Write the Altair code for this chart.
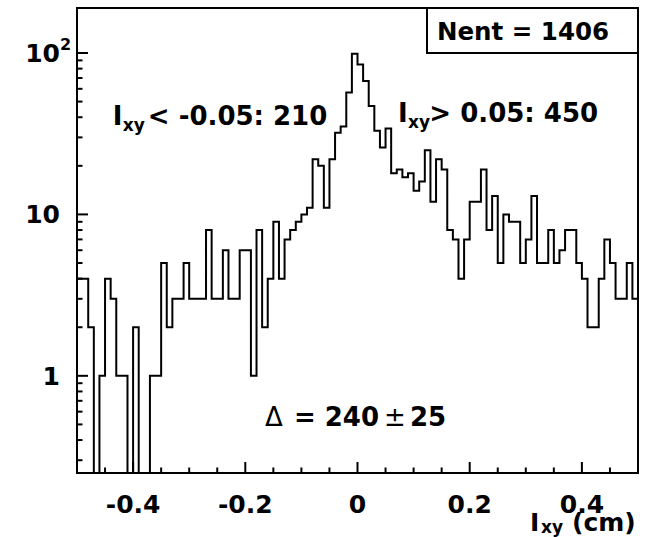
import altair as alt
import pandas as pd

# ---- data ----
x_min, x_max, n_bins = -0.5, 0.5, 100
counts = [4, 4, 2, 0, 1, 4, 3, 1, 1, 0,
          2, 0, 0, 1, 1, 5, 2, 3, 3, 5,
          3, 3, 3, 8, 3, 3, 6, 3, 3, 6,
          6, 1, 8, 2, 4, 9, 4, 7, 8, 9,
          10, 11, 22, 20, 11, 22, 32, 35, 57, 99,
          85, 67, 47, 33, 26, 34, 18, 19, 17, 18,
          14, 16, 25, 12, 22, 19, 8, 7, 4, 7,
          12, 12, 19, 8, 13, 5, 10, 9, 9, 5,
          7, 13, 5, 5, 8, 5, 6, 8, 8, 5,
          4, 2, 2, 4, 7, 5, 3, 3, 5, 3]
y_domain = [0.25, 190]
x_major = [-0.4, -0.2, 0.0, 0.2, 0.4]
x_labels = ["-0.4", "-0.2", "0", "0.2", "0.4"]
x_minor = [-0.45, -0.35, -0.3, -0.25, -0.15, -0.1, -0.05,
           0.05, 0.1, 0.15, 0.25, 0.3, 0.35, 0.45]
y_major = [1, 10, 100]
y_labels = ["1", "10", "10"]
y_sup_vals = [100]
y_sup_text = ["2"]
y_minor = [0.3, 0.4, 0.5, 0.6, 0.7, 0.8, 0.9,
           2, 3, 4, 5, 6, 7, 8, 9,
           20, 30, 40, 50, 60, 70, 80, 90]
stats_text = "Nent = 1406"

# annotation texts (data coordinates)
bold_big = pd.DataFrame({
    "x": [-0.4363, -0.3738, 0.0721, 0.1281, -0.1133, 0.0936],
    "y": [35.8, 35.8, 37.4, 37.4, 0.49, 0.49],
    "t": ["I", "< -0.05: 210", "I", "> 0.05: 450", "= 240", "25"],
})
bold_sub = pd.DataFrame({
    "x": [-0.4185, 0.0900],
    "y": [32.9, 34.3],
    "t": ["xy", "xy"],
})
normal_big = pd.DataFrame({
    "x": [-0.1651, 0.0472],
    "y": [0.49, 0.49],
    "t": ["\u0394", "\u00b1"],
})

W, H = 561, 465
FONT = "DejaVu Sans"

width_bin = (x_max - x_min) / n_bins
edges = [x_min + width_bin * i for i in range(n_bins)] + [x_max]
vals = counts + [counts[-1]]
hist = pd.DataFrame({"x": edges, "n": vals})
hist["y"] = hist["n"].clip(lower=0.05)

xs = alt.Scale(domain=[x_min, x_max], zero=False, nice=False)
ys = alt.Scale(type="log", domain=y_domain, nice=False)

line = alt.Chart(hist).mark_line(interpolate="step-after", color="black",
                                 strokeWidth=2, clip=True).encode(
    x=alt.X("x:Q", scale=xs, axis=None),
    y=alt.Y("y:Q", scale=ys, axis=None),
)

xmaj = alt.Chart(pd.DataFrame({"v": x_major})).mark_rule(color="black", strokeWidth=2).encode(
    x=alt.X("v:Q", scale=xs, axis=None), y=alt.value(H), y2=alt.value(H - 11))
xmin_ = alt.Chart(pd.DataFrame({"v": x_minor})).mark_rule(color="black", strokeWidth=2).encode(
    x=alt.X("v:Q", scale=xs, axis=None), y=alt.value(H), y2=alt.value(H - 5.5))
ymaj = alt.Chart(pd.DataFrame({"v": y_major})).mark_rule(color="black", strokeWidth=2).encode(
    y=alt.Y("v:Q", scale=ys, axis=None), x=alt.value(0), x2=alt.value(11))
ymin_ = alt.Chart(pd.DataFrame({"v": y_minor})).mark_rule(color="black", strokeWidth=2).encode(
    y=alt.Y("v:Q", scale=ys, axis=None), x=alt.value(0), x2=alt.value(5.5))

# tick labels
xlab = alt.Chart(pd.DataFrame({"v": x_major, "t": x_labels})).mark_text(
    font=FONT, fontWeight="bold", fontSize=25, align="center", baseline="alphabetic",
    color="black").encode(
    x=alt.X("v:Q", scale=xs, axis=None), y=alt.value(H + 40), text="t:N")
ylab = alt.Chart(pd.DataFrame({"v": y_major, "t": y_labels})).mark_text(
    font=FONT, fontWeight="bold", fontSize=25, align="right", baseline="alphabetic",
    color="black", dy=9).encode(
    y=alt.Y("v:Q", scale=ys, axis=None), x=alt.value(-17), text="t:N")
ysup = alt.Chart(pd.DataFrame({"v": y_sup_vals, "t": y_sup_text})).mark_text(
    font=FONT, fontWeight="bold", fontSize=16, align="left", baseline="alphabetic",
    color="black", dy=-3).encode(
    y=alt.Y("v:Q", scale=ys, axis=None), x=alt.value(-17), text="t:N")

t_big = alt.Chart(bold_big).mark_text(font=FONT, fontWeight="bold", fontSize=26,
                                      align="left", baseline="alphabetic", color="black").encode(
    x=alt.X("x:Q", scale=xs, axis=None), y=alt.Y("y:Q", scale=ys, axis=None), text="t:N")
t_sub = alt.Chart(bold_sub).mark_text(font=FONT, fontWeight="bold", fontSize=17,
                                      align="left", baseline="alphabetic", color="black").encode(
    x=alt.X("x:Q", scale=xs, axis=None), y=alt.Y("y:Q", scale=ys, axis=None), text="t:N")
t_norm = alt.Chart(normal_big).mark_text(font=FONT, fontWeight="normal", fontSize=26,
                                         align="left", baseline="alphabetic", color="black").encode(
    x=alt.X("x:Q", scale=xs, axis=None), y=alt.Y("y:Q", scale=ys, axis=None), text="t:N")

# stats box
box = alt.Chart(pd.DataFrame({"a": [0]})).mark_rect(fill="white", stroke="black", strokeWidth=2).encode(
    x=alt.value(350), x2=alt.value(W), y=alt.value(0), y2=alt.value(45))
box_txt = alt.Chart(pd.DataFrame({"t": [stats_text]})).mark_text(
    font=FONT, fontWeight="bold", fontSize=24.5, align="left", baseline="alphabetic", color="black").encode(
    x=alt.value(360), y=alt.value(32), text="t:N")

# x-axis title  I_xy (cm)
xt1 = alt.Chart(pd.DataFrame({"t": ["I"]})).mark_text(
    font=FONT, fontWeight="bold", fontSize=25, align="left", baseline="alphabetic", color="black").encode(
    x=alt.value(453), y=alt.value(523), text="t:N")
xt2 = alt.Chart(pd.DataFrame({"t": ["xy"]})).mark_text(
    font=FONT, fontWeight="bold", fontSize=17, align="left", baseline="alphabetic", color="black").encode(
    x=alt.value(464), y=alt.value(524.5), text="t:N")
xt3 = alt.Chart(pd.DataFrame({"t": ["(cm)"]})).mark_text(
    font=FONT, fontWeight="bold", fontSize=25, align="left", baseline="alphabetic", color="black").encode(
    x=alt.value(495), y=alt.value(523), text="t:N")

chart = alt.layer(
    line, xmaj, xmin_, ymaj, ymin_, xlab, ylab, ysup,
    t_big, t_sub, t_norm, box, box_txt, xt1, xt2, xt3
).properties(
    width=W, height=H,
    padding={"left": 77, "top": 8, "right": 11, "bottom": 64},
    autosize="none",
    background="white",
).configure_view(stroke="black", strokeWidth=2)

chart.save("out.html", embed_options={"renderer": "svg", "actions": False})
